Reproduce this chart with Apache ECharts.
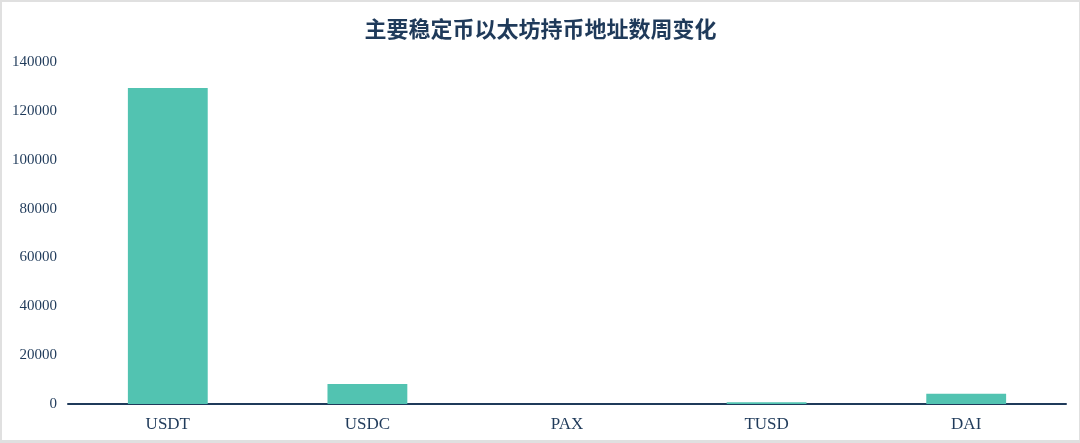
<!DOCTYPE html>
<html><head><meta charset="utf-8">
<script src="https://cdn.jsdelivr.net/npm/echarts@6/dist/echarts.min.js"></script>
<style>html,body{margin:0;padding:0;background:#fff}#c{width:1080px;height:443px;box-sizing:border-box;border:2px solid #e0e0e0;border-right-width:1px;border-bottom-width:3px}</style>
</head><body><div id="c"></div>
<script>
const title = '主要稳定币以太坊持币地址数周变化';
const categories = ['USDT', 'USDC', 'PAX', 'TUSD', 'DAI'];
const values = [129400, 8200, 20, 700, 4200];
const yTicks = {min: 0, max: 140000, interval: 20000};
const chart = echarts.init(document.getElementById('c'));
chart.setOption({
  animation: false,
  title: {text: title, left: 'center', top: 11, textStyle: {fontFamily: 'Noto Sans CJK SC', fontSize: 22, fontWeight: 'bold', color: '#1f3a5a'}},
  grid: {left: 66, right: 13, top: 60, bottom: 36, containLabel: false},
  xAxis: {type: 'category', data: categories,
    axisLine: {lineStyle: {color: '#1f3a5a', width: 2}}, axisTick: {show: false},
    axisLabel: {fontFamily: 'Liberation Serif', fontSize: 17, color: '#1f3a5a', margin: 12}},
  yAxis: {type: 'value', min: yTicks.min, max: yTicks.max, interval: yTicks.interval,
    splitLine: {show: false}, axisLine: {show: false}, axisTick: {show: false},
    axisLabel: {fontFamily: 'Liberation Serif', fontSize: 15, color: '#1f3a5a', margin: 11, formatter: v => String(v)}},
  series: [{type: 'bar', data: values, barWidth: '40%', itemStyle: {color: '#52c3b1'}}]
});
</script></body></html>
